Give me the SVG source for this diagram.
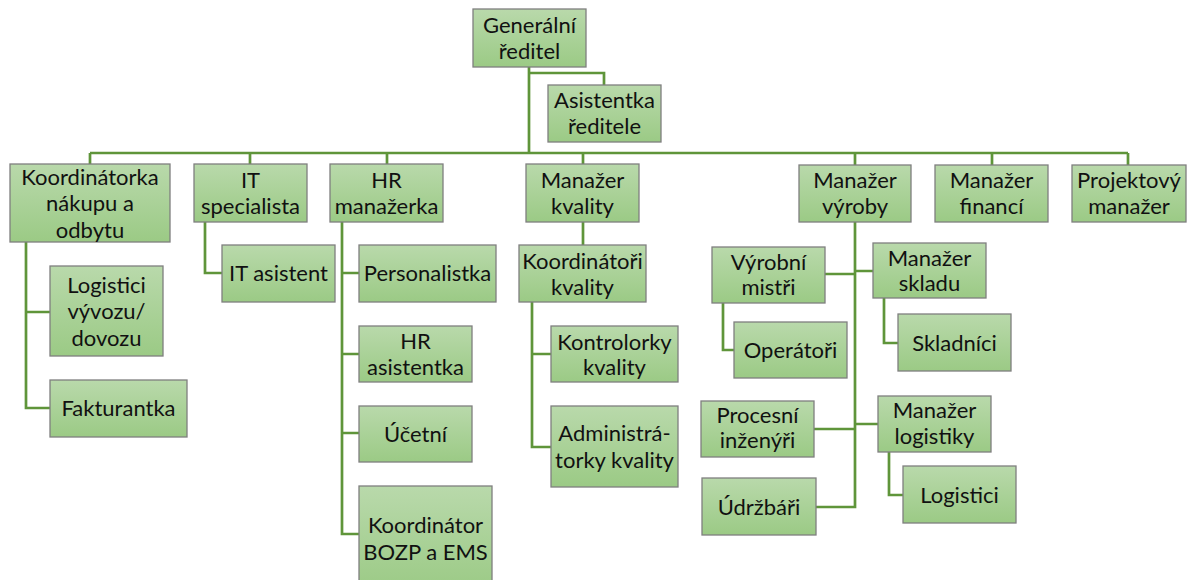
<svg xmlns="http://www.w3.org/2000/svg" width="1192" height="580" viewBox="0 0 1192 580">
<defs>
<linearGradient id="g" x1="0" y1="0" x2="0" y2="1">
<stop offset="0" stop-color="#b9d9ab"/>
<stop offset="1" stop-color="#9bca85"/>
</linearGradient>
<style>
.n rect{fill:url(#g);stroke:#7f7f7f;stroke-width:1.3}
.n text{font-family:"Lato","Liberation Sans",sans-serif;font-size:22px;fill:#111;text-anchor:middle}
#connectors path{fill:none;stroke:#5f953a;stroke-width:2.7}
</style>
</defs>
<rect width="1192" height="580" fill="#fff"/>
<g id="connectors">
<path d="M529,67V153M529,73H604V85"/>
<path d="M90,153H1128M90,153V164M250,153V164M387,153V164M583,153V164M855,153V165M992,153V165M1128,153V165"/>
<path d="M26,242V408H50M26,312H50"/>
<path d="M205,222V273H222"/>
<path d="M342,222V534H359M342,273H359M342,354H359M342,433H359"/>
<path d="M583,222V245M532,302V447H551M532,354H551"/>
<path d="M855,222V507H816M825,274H855M855,271H873M814,429H855M855,424H878"/>
<path d="M723,303V350H734"/>
<path d="M884,298V343H898"/>
<path d="M889,452V495H903"/>
</g>
<g id="gr" class="n"><rect x="473" y="9" width="113" height="58"/><text x="529.5"><tspan x="529.5" y="32.5">Generální</tspan><tspan x="529.5" y="59">ředitel</tspan></text></g>
<g id="as" class="n"><rect x="548" y="85" width="113" height="57"/><text><tspan x="604.5" y="108">Asistentka</tspan><tspan x="604.5" y="134">ředitele</tspan></text></g>
<g id="k1" class="n"><rect x="10" y="164" width="160" height="78"/><text><tspan x="90" y="184.5">Koordinátorka</tspan><tspan x="90" y="211">nákupu a</tspan><tspan x="90" y="237.5">odbytu</tspan></text></g>
<g id="it" class="n"><rect x="194" y="164" width="113" height="58"/><text><tspan x="250.5" y="187.5">IT</tspan><tspan x="250.5" y="214">specialista</tspan></text></g>
<g id="hr" class="n"><rect x="330" y="164" width="113" height="58"/><text><tspan x="386.5" y="187.5">HR</tspan><tspan x="386.5" y="214">manažerka</tspan></text></g>
<g id="mk" class="n"><rect x="526" y="164" width="113" height="58"/><text><tspan x="582.5" y="187.5">Manažer</tspan><tspan x="582.5" y="214">kvality</tspan></text></g>
<g id="mv" class="n"><rect x="799" y="165" width="112" height="57"/><text><tspan x="855" y="187.5">Manažer</tspan><tspan x="855" y="214">výroby</tspan></text></g>
<g id="mf" class="n"><rect x="935" y="165" width="113" height="57"/><text><tspan x="991.5" y="187.5">Manažer</tspan><tspan x="991.5" y="214">financí</tspan></text></g>
<g id="pm" class="n"><rect x="1072" y="165" width="114" height="57"/><text><tspan x="1129" y="187.5">Projektový</tspan><tspan x="1129" y="214">manažer</tspan></text></g>
<g id="lv" class="n"><rect x="50" y="266" width="113" height="90"/><text><tspan x="106.5" y="292.5">Logistici</tspan><tspan x="106.5" y="319">vývozu/</tspan><tspan x="106.5" y="345.5">dovozu</tspan></text></g>
<g id="fa" class="n"><rect x="50" y="380" width="137" height="57"/><text x="118.5" y="416">Fakturantka</text></g>
<g id="ita" class="n"><rect x="222" y="245" width="113" height="57"/><text x="278.5" y="281">IT asistent</text></g>
<g id="pe" class="n"><rect x="359" y="245" width="137" height="57"/><text x="427.5" y="281">Personalistka</text></g>
<g id="hra" class="n"><rect x="359" y="326" width="113" height="56"/><text><tspan x="415.5" y="348.5">HR</tspan><tspan x="415.5" y="374.5">asistentka</tspan></text></g>
<g id="uc" class="n"><rect x="359" y="406" width="113" height="56"/><text x="415.5" y="441.5">Účetní</text></g>
<g id="bo" class="n"><rect x="359" y="486" width="133" height="106"/><text><tspan x="425.5" y="533">Koordinátor</tspan><tspan x="425.5" y="559.5">BOZP a EMS</tspan></text></g>
<g id="kk" class="n"><rect x="519" y="245" width="127" height="57"/><text><tspan x="582.5" y="268.5">Koordinátoři</tspan><tspan x="582.5" y="294.5">kvality</tspan></text></g>
<g id="ko" class="n"><rect x="551" y="326" width="127" height="56"/><text><tspan x="614.5" y="349.5">Kontrolorky</tspan><tspan x="614.5" y="374.5">kvality</tspan></text></g>
<g id="ad" class="n"><rect x="551" y="406" width="127" height="81"/><text><tspan x="614.5" y="441">Administrá-</tspan><tspan x="614.5" y="467.5">torky kvality</tspan></text></g>
<g id="vm" class="n"><rect x="712" y="247" width="113" height="56"/><text><tspan x="768.5" y="270">Výrobní</tspan><tspan x="768.5" y="295">mistři</tspan></text></g>
<g id="ms" class="n"><rect x="873" y="243" width="113" height="55"/><text><tspan x="929.5" y="266">Manažer</tspan><tspan x="929.5" y="291">skladu</tspan></text></g>
<g id="op" class="n"><rect x="734" y="322" width="113" height="56"/><text x="790.5" y="357.5">Operátoři</text></g>
<g id="sk" class="n"><rect x="898" y="314" width="113" height="57"/><text x="954.5" y="350.5">Skladníci</text></g>
<g id="pi" class="n"><rect x="701" y="401" width="113" height="56"/><text><tspan x="757.5" y="422.5">Procesní</tspan><tspan x="757.5" y="447.5">inženýři</tspan></text></g>
<g id="ml" class="n"><rect x="878" y="396" width="113" height="56"/><text><tspan x="934.5" y="417.5">Manažer</tspan><tspan x="934.5" y="444">logistiky</tspan></text></g>
<g id="lo" class="n"><rect x="903" y="466" width="113" height="57"/><text x="959.5" y="502.5">Logistici</text></g>
<g id="ud" class="n"><rect x="702" y="478" width="114" height="57"/><text x="759" y="514.5">Údržbáři</text></g>
</svg>
